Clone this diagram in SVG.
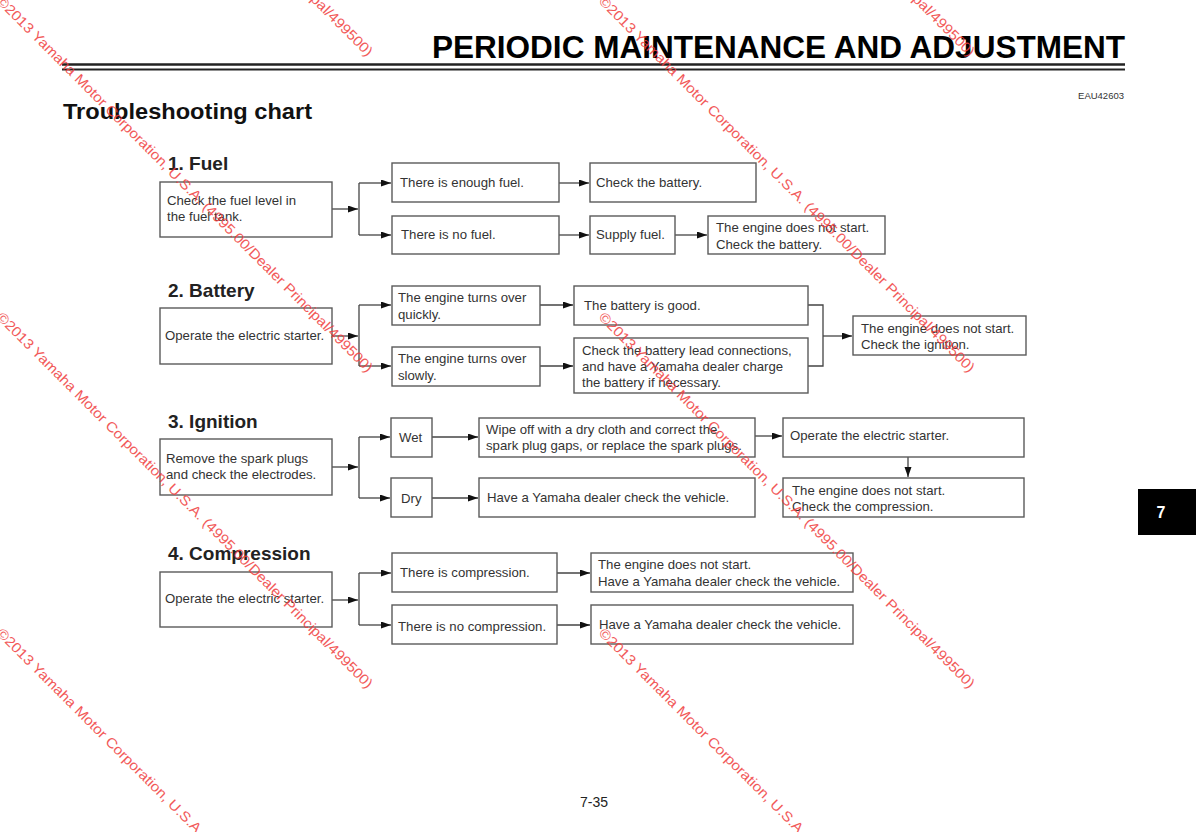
<svg xmlns="http://www.w3.org/2000/svg" width="1196" height="832" viewBox="0 0 1196 832">
<style>
  .bx{fill:#fff;stroke:#5a5a5a;stroke-width:1.4}
  .t{font-family:"Liberation Sans",Arial,sans-serif;font-size:13.2px;fill:#333}
  .h{font-family:"Liberation Sans",Arial,sans-serif;font-size:19px;font-weight:bold;fill:#222}
  .c{fill:none;stroke:#444;stroke-width:1.3}
  .a{marker-end:url(#ah)}
  .wm{font-family:"Liberation Sans",Arial,sans-serif;font-size:14px;fill:#f03c3c;opacity:0.85}
</style>
<defs>
  <marker id="ah" markerUnits="userSpaceOnUse" markerWidth="11" markerHeight="8" refX="10" refY="3.5" orient="auto">
    <path d="M0,0 L10,3.5 L0,7 Z" fill="#111"/>
  </marker>
</defs>
<rect width="1196" height="832" fill="#fff"/>

<!-- header -->
<text x="432" y="58" font-family="Liberation Sans,Arial,sans-serif" font-weight="bold" font-size="31.5" fill="#000" textLength="693" lengthAdjust="spacingAndGlyphs">PERIODIC MAINTENANCE AND ADJUSTMENT</text>
<line x1="62" y1="64.5" x2="1125" y2="64.5" stroke="#222" stroke-width="2.6"/>
<line x1="62" y1="69.6" x2="1125" y2="69.6" stroke="#222" stroke-width="2"/>
<text x="1124" y="99" text-anchor="end" font-family="Liberation Sans,Arial,sans-serif" font-size="9.5" fill="#333">EAU42603</text>
<text x="63" y="119" font-family="Liberation Sans,Arial,sans-serif" font-weight="bold" font-size="22" fill="#111" textLength="249" lengthAdjust="spacingAndGlyphs">Troubleshooting chart</text>

<!-- section headings -->
<text class="h" x="168" y="170">1. Fuel</text>
<text class="h" x="168" y="297">2. Battery</text>
<text class="h" x="168" y="428">3. Ignition</text>
<text class="h" x="168" y="560">4. Compression</text>

<!-- connectors -->
<g id="connectors">
  <path class="c a" d="M332,209 H358"/>
  <path class="c" d="M359,183 V235"/>
  <path class="c a" d="M359,183 H391"/>
  <path class="c a" d="M359,235 H391"/>
  <path class="c a" d="M559,183 H589"/>
  <path class="c a" d="M559,235 H589"/>
  <path class="c a" d="M675,235 H707"/>

  <path class="c a" d="M332,336 H358"/>
  <path class="c" d="M359,305 V366"/>
  <path class="c a" d="M359,305 H391"/>
  <path class="c a" d="M359,366 H391"/>
  <path class="c a" d="M540,305 H573"/>
  <path class="c a" d="M540,366 H573"/>
  <path class="c" d="M808,305 H823 V366 H808"/>
  <path class="c a" d="M823,336 H852"/>

  <path class="c a" d="M332,467 H358"/>
  <path class="c" d="M359,437 V498"/>
  <path class="c a" d="M359,437 H390"/>
  <path class="c a" d="M359,498 H390"/>
  <path class="c a" d="M432,437 H478"/>
  <path class="c a" d="M432,498 H478"/>
  <path class="c a" d="M755,436 H782"/>
  <path class="c a" d="M908,457 V477"/>

  <path class="c a" d="M332,600 H358"/>
  <path class="c" d="M359,573 V625"/>
  <path class="c a" d="M359,573 H391"/>
  <path class="c a" d="M359,625 H391"/>
  <path class="c a" d="M557,573 H590"/>
  <path class="c a" d="M557,625 H590"/>
</g>

<!-- 1. Fuel -->
<g id="fuel-check"><rect class="bx" x="160" y="182" width="172" height="55"/><text class="t" x="167" y="205">Check the fuel level in</text><text class="t" x="167" y="221">the fuel tank.</text></g>
<g id="fuel-enough"><rect class="bx" x="392" y="163" width="167" height="39"/><text class="t" x="400" y="187">There is enough fuel.</text></g>
<g id="fuel-none"><rect class="bx" x="392" y="216" width="167" height="38"/><text class="t" x="401" y="239">There is no fuel.</text></g>
<g id="fuel-check-battery"><rect class="bx" x="590" y="163" width="166" height="39"/><text class="t" x="596" y="187">Check the battery.</text></g>
<g id="fuel-supply"><rect class="bx" x="590" y="216" width="85" height="38"/><text class="t" x="596" y="239">Supply fuel.</text></g>
<g id="fuel-nostart"><rect class="bx" x="708" y="216" width="177" height="38"/><text class="t" x="716" y="232">The engine does not start.</text><text class="t" x="716" y="249">Check the battery.</text></g>

<!-- 2. Battery -->
<g id="bat-operate"><rect class="bx" x="160" y="308" width="172" height="56"/><text class="t" x="165" y="340">Operate the electric starter.</text></g>
<g id="bat-quick"><rect class="bx" x="392" y="286" width="148" height="39"/><text class="t" x="398" y="302">The engine turns over</text><text class="t" x="398" y="319">quickly.</text></g>
<g id="bat-slow"><rect class="bx" x="392" y="347" width="148" height="39"/><text class="t" x="398" y="363">The engine turns over</text><text class="t" x="398" y="380">slowly.</text></g>
<g id="bat-good"><rect class="bx" x="574" y="286" width="234" height="39"/><text class="t" x="584" y="310">The battery is good.</text></g>
<g id="bat-lead"><rect class="bx" x="574" y="338" width="234" height="55"/><text class="t" x="582" y="355">Check the battery lead connections,</text><text class="t" x="582" y="371">and have a Yamaha dealer charge</text><text class="t" x="582" y="387">the battery if necessary.</text></g>
<g id="bat-nostart"><rect class="bx" x="853" y="316" width="173" height="39"/><text class="t" x="861" y="333">The engine does not start.</text><text class="t" x="861" y="349">Check the ignition.</text></g>

<!-- 3. Ignition -->
<g id="ign-remove"><rect class="bx" x="160" y="439" width="172" height="56"/><text class="t" x="166" y="463">Remove the spark plugs</text><text class="t" x="166" y="479">and check the electrodes.</text></g>
<g id="ign-wet"><rect class="bx" x="391" y="418" width="41" height="39"/><text class="t" x="399" y="442">Wet</text></g>
<g id="ign-dry"><rect class="bx" x="391" y="478" width="41" height="39"/><text class="t" x="401" y="503">Dry</text></g>
<g id="ign-wipe"><rect class="bx" x="479" y="418" width="276" height="39"/><text class="t" x="486" y="434">Wipe off with a dry cloth and correct the</text><text class="t" x="486" y="450">spark plug gaps, or replace the spark plugs.</text></g>
<g id="ign-dealer"><rect class="bx" x="479" y="478" width="276" height="39"/><text class="t" x="487" y="502">Have a Yamaha dealer check the vehicle.</text></g>
<g id="ign-operate"><rect class="bx" x="783" y="418" width="241" height="39"/><text class="t" x="790" y="440">Operate the electric starter.</text></g>
<g id="ign-nostart"><rect class="bx" x="783" y="478" width="241" height="39"/><text class="t" x="792" y="495">The engine does not start.</text><text class="t" x="792" y="511">Check the compression.</text></g>

<!-- 4. Compression -->
<g id="comp-operate"><rect class="bx" x="160" y="572" width="172" height="55"/><text class="t" x="165" y="603">Operate the electric starter.</text></g>
<g id="comp-yes"><rect class="bx" x="392" y="553" width="165" height="39"/><text class="t" x="400" y="577">There is compression.</text></g>
<g id="comp-no"><rect class="bx" x="392" y="605" width="165" height="39"/><text class="t" x="398" y="631">There is no compression.</text></g>
<g id="comp-nostart"><rect class="bx" x="591" y="553" width="262" height="39"/><text class="t" x="598" y="569">The engine does not start.</text><text class="t" x="598" y="586">Have a Yamaha dealer check the vehicle.</text></g>
<g id="comp-dealer"><rect class="bx" x="591" y="605" width="262" height="39"/><text class="t" x="599" y="629">Have a Yamaha dealer check the vehicle.</text></g>

<!-- footer -->
<text x="594" y="807" text-anchor="middle" font-family="Liberation Sans,Arial,sans-serif" font-size="14" fill="#222">7-35</text>
<rect x="1138" y="489" width="58" height="46" fill="#000"/>
<text x="1161" y="518" text-anchor="middle" font-family="Liberation Sans,Arial,sans-serif" font-weight="bold" font-size="16" fill="#fff">7</text>

<!-- watermarks -->
<g id="watermarks">
  <text class="wm" transform="translate(-4,-314) rotate(45)" textLength="525" lengthAdjust="spacingAndGlyphs">©2013 Yamaha Motor Corporation, U.S.A. (4995.00/Dealer Principal/499500)</text>
  <text class="wm" transform="translate(-4,2) rotate(45)" textLength="525" lengthAdjust="spacingAndGlyphs">©2013 Yamaha Motor Corporation, U.S.A. (4995.00/Dealer Principal/499500)</text>
  <text class="wm" transform="translate(-4,318) rotate(45)" textLength="525" lengthAdjust="spacingAndGlyphs">©2013 Yamaha Motor Corporation, U.S.A. (4995.00/Dealer Principal/499500)</text>
  <text class="wm" transform="translate(-4,634) rotate(45)" textLength="525" lengthAdjust="spacingAndGlyphs">©2013 Yamaha Motor Corporation, U.S.A. (4995.00/Dealer Principal/499500)</text>
  <text class="wm" transform="translate(598,-314) rotate(45)" textLength="525" lengthAdjust="spacingAndGlyphs">©2013 Yamaha Motor Corporation, U.S.A. (4995.00/Dealer Principal/499500)</text>
  <text class="wm" transform="translate(598,2) rotate(45)" textLength="525" lengthAdjust="spacingAndGlyphs">©2013 Yamaha Motor Corporation, U.S.A. (4995.00/Dealer Principal/499500)</text>
  <text class="wm" transform="translate(598,318) rotate(45)" textLength="525" lengthAdjust="spacingAndGlyphs">©2013 Yamaha Motor Corporation, U.S.A. (4995.00/Dealer Principal/499500)</text>
  <text class="wm" transform="translate(598,634) rotate(45)" textLength="525" lengthAdjust="spacingAndGlyphs">©2013 Yamaha Motor Corporation, U.S.A. (4995.00/Dealer Principal/499500)</text>
</g>
</svg>
